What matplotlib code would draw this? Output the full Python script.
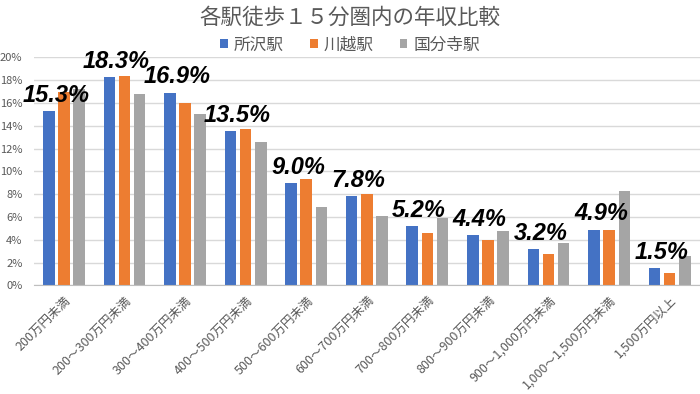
import numpy as np
import matplotlib.pyplot as plt
from matplotlib.ticker import FuncFormatter

plt.rcParams['font.family'] = ['Noto Sans CJK JP', 'DejaVu Sans']

categories = ['200万円未満', '200～300万円未満', '300～400万円未満', '400～500万円未満',
              '500～600万円未満', '600～700万円未満', '700～800万円未満', '800～900万円未満',
              '900～1,000万円未満', '1,000～1,500万円未満', '1,500万円以上']
tokorozawa = [15.3, 18.3, 16.9, 13.5, 9.0, 7.8, 5.2, 4.4, 3.2, 4.9, 1.5]
kawagoe = [17.0, 18.4, 16.0, 13.7, 9.3, 8.0, 4.6, 4.0, 2.8, 4.9, 1.1]
kokubunji = [17.2, 16.8, 15.0, 12.6, 6.9, 6.1, 5.9, 4.8, 3.7, 8.3, 2.6]
series_names = ['所沢駅', '川越駅', '国分寺駅']
colors = ['#4472C4', '#ED7D31', '#A5A5A5']

fig = plt.figure(figsize=(7, 3.94), dpi=100)
ax = fig.add_axes([0.048, 0.2754, 0.952, 0.5792])

x = np.arange(len(categories))
w = 0.19
step = 0.25
for i, (vals, name, c) in enumerate(zip([tokorozawa, kawagoe, kokubunji], series_names, colors)):
    ax.bar(x + (i - 1) * step, vals, width=w, color=c, label=name, zorder=2)

# labels over the 所沢駅 bars
for xi, v in zip(x, tokorozawa):
    ax.annotate(f'{v:.1f}%', xy=(xi - step, v), xytext=(5, 3), textcoords='offset points',
                ha='center', va='bottom', fontsize=17, fontweight='bold', style='italic',
                family='Liberation Sans', color='black', zorder=5)

ax.set_xlim(-0.5, len(categories) - 0.5)
ax.set_ylim(0, 20)
ax.set_yticks(np.arange(0, 21, 2))
ax.yaxis.set_major_formatter(FuncFormatter(lambda v, p: f'{v:.0f}%'))
ax.grid(axis='y', color='#D9D9D9', linewidth=1, zorder=0)
ax.set_axisbelow(True)
for s in ['top', 'right', 'left']:
    ax.spines[s].set_visible(False)
ax.spines['bottom'].set_color('#BFBFBF')
ax.tick_params(axis='both', length=0, colors='#595959')
ax.tick_params(axis='y', labelsize=8, pad=8)
ax.set_xticks(x)
ax.set_xticklabels(categories, rotation=45, ha='right', va='top', rotation_mode='anchor',
                   fontsize=9, color='#595959')
ax.tick_params(axis='x', pad=6)

fig.text(0.5, 1 - 18 / 394, '各駅徒歩１５分圏内の年収比較', ha='center', va='center',
         fontsize=15.5, color='#595959')
fig.legend(loc='center', bbox_to_anchor=(0.5, 1 - 45 / 394), ncol=3, frameon=False,
           fontsize=12, handlelength=0.45, handleheight=0.45, handletextpad=0.35,
           columnspacing=1.6, labelcolor='#595959')

plt.savefig('out.png')
